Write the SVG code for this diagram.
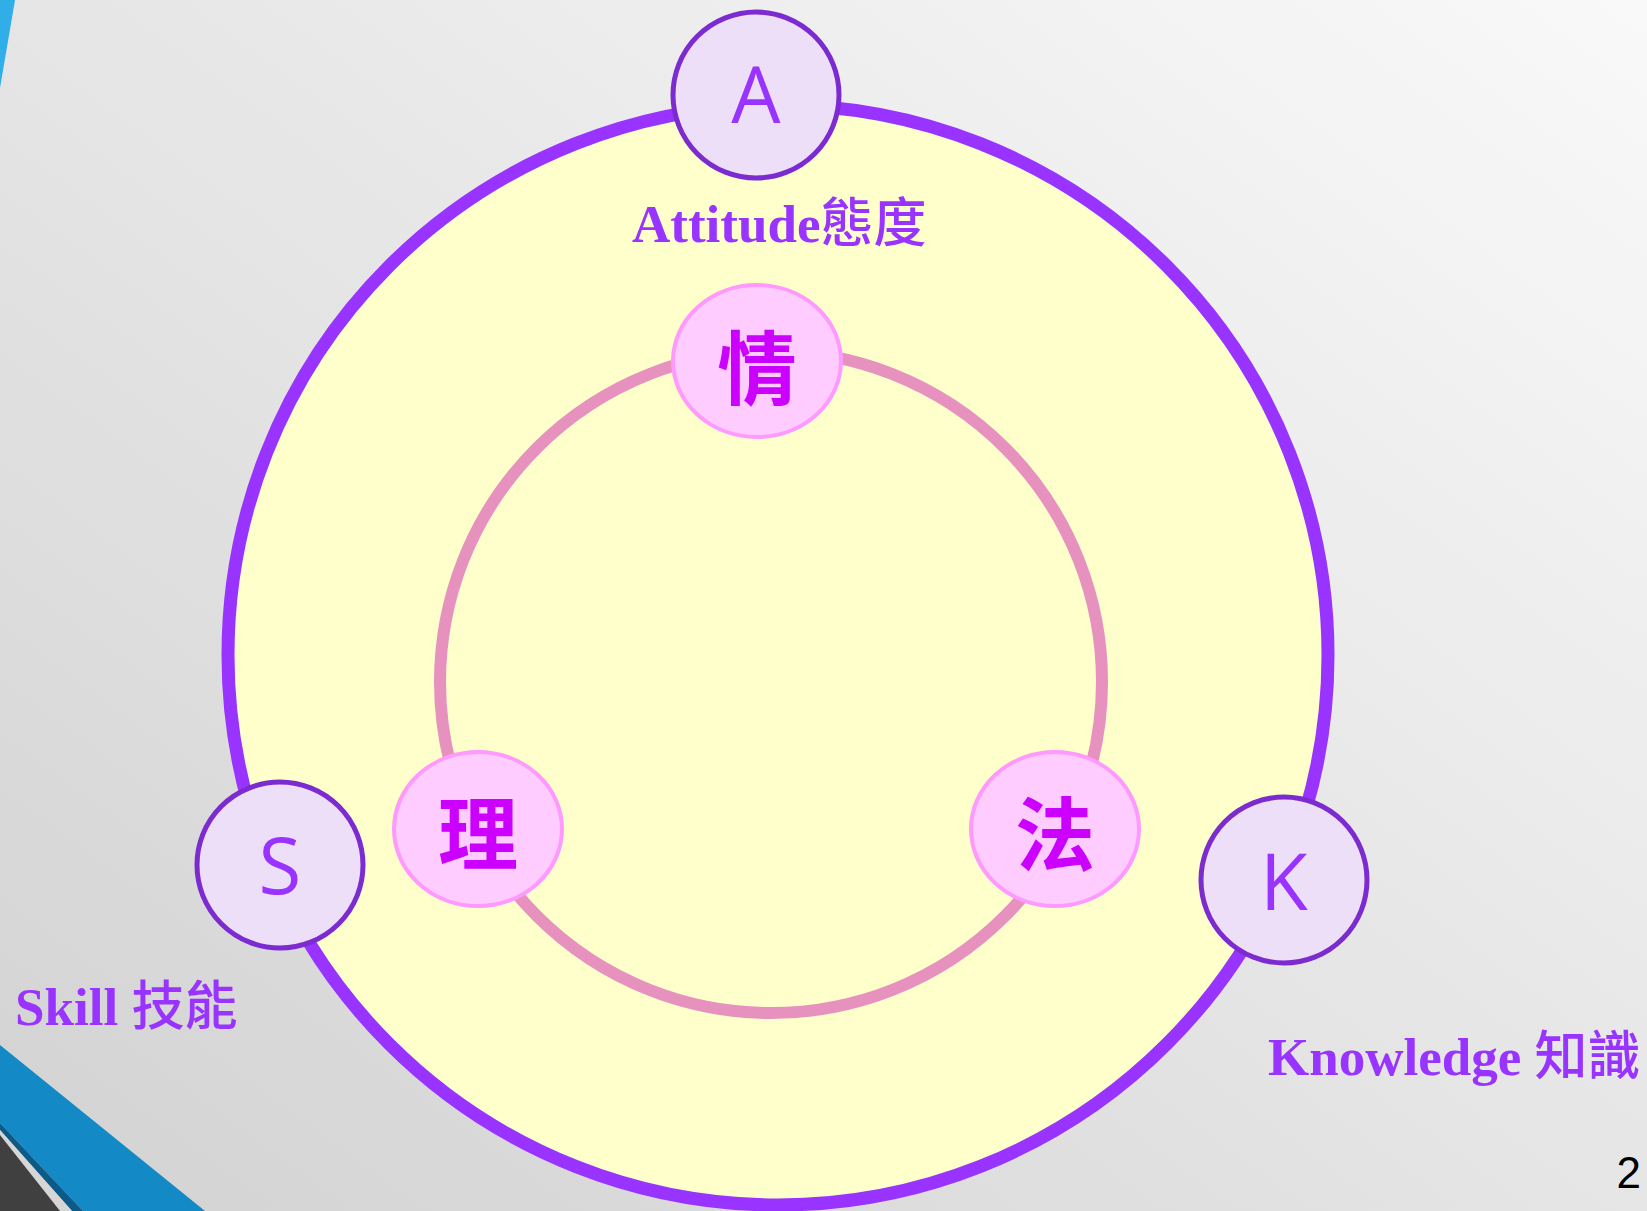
<svg xmlns="http://www.w3.org/2000/svg" width="1647" height="1211" viewBox="0 0 1647 1211">
<defs>
<linearGradient id="bg" x1="1" y1="0" x2="0" y2="1">
<stop offset="0" stop-color="#f9f9f9"/>
<stop offset="1" stop-color="#d2d2d2"/>
</linearGradient>
<style>
.ring-outer{fill:#ffffcc;stroke:#9933ff;stroke-width:13}
.ring-inner{fill:none;stroke:#e691be;stroke-width:12}
.big{fill:#eedff8;stroke:#7b2bcf;stroke-width:5}
.big-t{font-family:"Open Sans","Liberation Sans",sans-serif;font-size:78px;fill:#9933ff;text-anchor:middle}
.small{fill:#ffccff;stroke:#ff99ff;stroke-width:4}
.small-t{font-family:"Noto Sans CJK TC","Noto Sans CJK SC",sans-serif;font-weight:bold;font-size:80px;fill:#cc00ff;text-anchor:middle}
.lbl{font-family:"Liberation Serif","Noto Sans CJK TC",serif;font-weight:bold;font-size:53px;fill:#9933ff}
.cjk{font-family:"Noto Sans CJK TC","Noto Sans CJK SC",sans-serif;font-weight:500}
</style>
</defs>
<rect x="0" y="0" width="1647" height="1211" fill="url(#bg)"/>
<polygon points="0,0 15,0 0,88" fill="#2faee8"/>
<polygon points="0,1045 205,1211 83,1211 0,1123" fill="#1389c6"/>
<polygon points="0,1123 83,1211 72,1211 0,1130" fill="#0b5a87"/>
<polygon points="0,1130 72,1211 60,1211 0,1135" fill="#d6d6d6"/>
<polygon points="0,1135 60,1211 0,1211" fill="#404040"/>
<g id="connectors">
<circle class="ring-outer" cx="778" cy="655" r="550"/>
<circle class="ring-inner" cx="771" cy="682" r="331"/>
</g>
<g id="node-A">
<circle class="big" cx="756" cy="95" r="83"/>
<text class="big-t" x="756" y="123">A</text>
</g>
<g id="node-S">
<circle class="big" cx="280" cy="865" r="83"/>
<text class="big-t" x="280" y="894">S</text>
</g>
<g id="node-K">
<circle class="big" cx="1284" cy="880" r="83"/>
<text class="big-t" x="1284" y="910">K</text>
</g>
<g id="node-qing">
<ellipse class="small" cx="757" cy="361" rx="84" ry="76"/>
<text class="small-t" x="757" y="398">情</text>
</g>
<g id="node-li">
<ellipse class="small" cx="478" cy="829" rx="84" ry="77"/>
<text class="small-t" x="478" y="863">理</text>
</g>
<g id="node-fa">
<ellipse class="small" cx="1055" cy="829" rx="84" ry="77"/>
<text class="small-t" x="1055" y="864">法</text>
</g>
<g id="label-attitude">
<text class="lbl" x="632" y="242">Attitude<tspan class="cjk">態度</tspan></text>
</g>
<g id="label-skill">
<text class="lbl" x="15" y="1025">Skill <tspan class="cjk">技能</tspan></text>
</g>
<g id="label-knowledge">
<text class="lbl" x="1268" y="1075">Knowledge <tspan class="cjk">知識</tspan></text>
</g>
<text x="1641" y="1188" font-family="Liberation Sans,Arial,sans-serif" font-size="44" fill="#000" text-anchor="end">2</text>
</svg>
